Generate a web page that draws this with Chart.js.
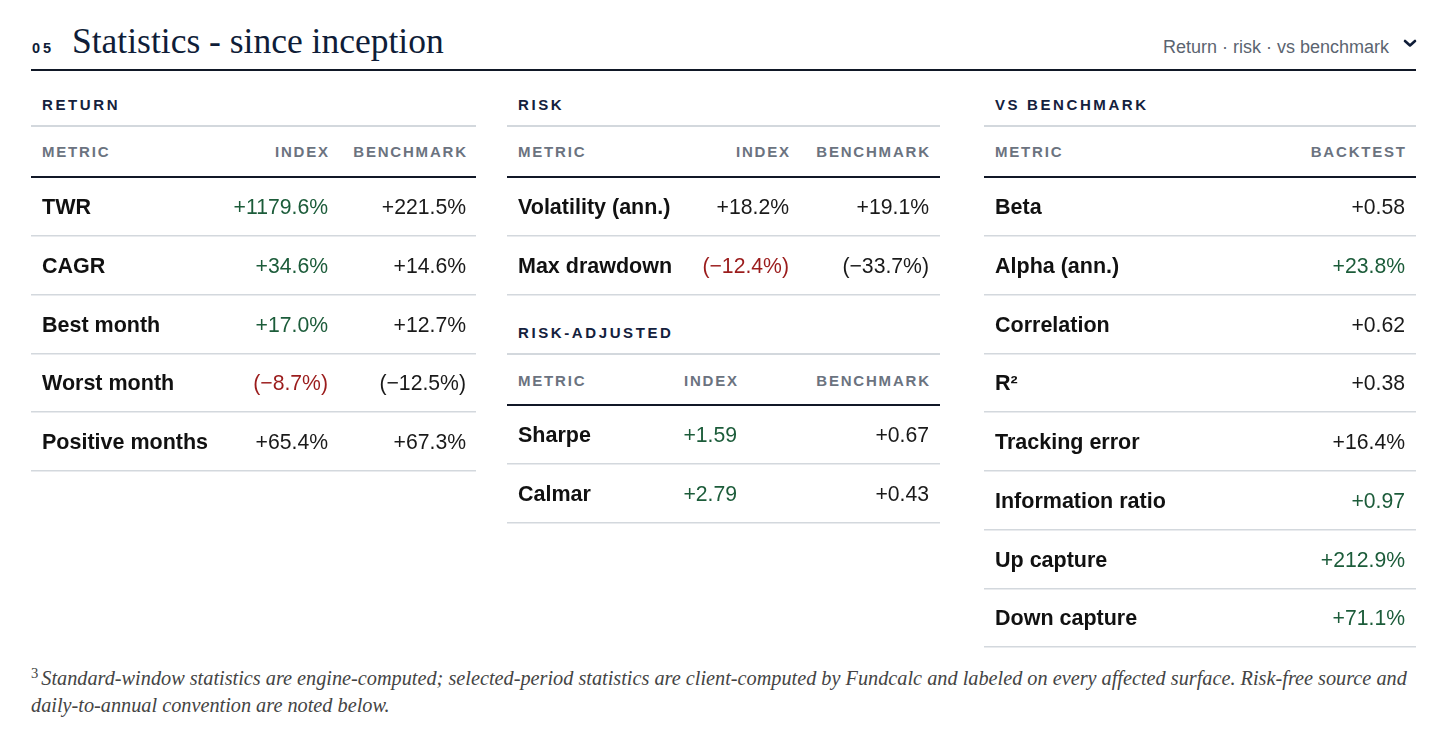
<!DOCTYPE html>
<html>
<head>
<meta charset="utf-8">
<script src="https://cdn.jsdelivr.net/npm/chart.js@4.4.1/dist/chart.umd.min.js"></script>
<style>
  body { margin: 0; background: #fff; width: 1456px; height: 749px; overflow: hidden; position: relative;
         font-family: "Liberation Sans", Arial, sans-serif; }
  .abs { position: absolute; white-space: nowrap; }
  .sec { font-weight: bold; font-size: 15px; line-height: 15px; letter-spacing: 2.6px; color: #14213d; }
  .hd { font-weight: bold; font-size: 15px; line-height: 15px; letter-spacing: 1.8px; color: #6b7380; }
  .light { height: 2px; background: #d3d8dd; }
  .dark { height: 2px; background: #111827; }
  #title { left: 72px; top: 23.5px; font-family: "Liberation Serif", Georgia, serif; font-size: 35.5px; line-height: 35.5px; color: #0f1d38; }
  #num { left: 32px; top: 40.5px; font-weight: bold; font-size: 14.5px; line-height: 14.5px; letter-spacing: 3px; color: #0f1d38; }
  #nav { right: 67px; top: 37.8px; font-size: 18px; line-height: 18px; color: #5b6470; }
  #fn { left: 31px; font-family: "Liberation Serif", Georgia, serif; font-style: italic; color: #444; line-height: 25px; white-space: nowrap; }
  #fn .sup { font-style: normal; position: relative; top: -0.45em; font-size: 0.72em; margin-right: 3px; }
  canvas { position: absolute; }
</style>
</head>
<body>
<div id="num" class="abs">05</div>
<div id="title" class="abs">Statistics - since inception</div>
<div id="nav" class="abs">Return · risk · vs benchmark</div>
<svg class="abs" style="left:1403px;top:39px" width="14" height="9"><polyline points="2,2 7,6.5 12,2" fill="none" stroke="#0f1d38" stroke-width="2.6" stroke-linecap="round" stroke-linejoin="round"/></svg>
<div class="abs dark" style="left:31px;top:69px;width:1385px"></div>
<div id="fn" class="abs"><span class="sup">3</span><span id="fn1">Standard-window statistics are engine-computed; selected-period statistics are client-computed by Fundcalc and labeled on every affected surface. Risk-free source and</span><br>daily-to-annual convention are noted below.</div>

<script>
// Return
var returnMetrics = ["TWR", "CAGR", "Best month", "Worst month", "Positive months"];
var returnIndex = [1179.6, 34.6, 17.0, -8.7, 65.4];
var returnBenchmark = [221.5, 14.6, 12.7, -12.5, 67.3];
var returnIndexTone = ["g", "g", "g", "r", ""];

// Risk
var riskMetrics = ["Volatility (ann.)", "Max drawdown"];
var riskIndex = [18.2, -12.4];
var riskBenchmark = [19.1, -33.7];
var riskIndexTone = ["", "r"];

// Risk-adjusted
var adjMetrics = ["Sharpe", "Calmar"];
var adjIndex = [1.59, 2.79];
var adjBenchmark = [0.67, 0.43];
var adjIndexTone = ["g", "g"];

// Vs benchmark
var vsMetrics = ["Beta", "Alpha (ann.)", "Correlation", "R\u00b2", "Tracking error", "Information ratio", "Up capture", "Down capture"];
var vsBacktest = [0.58, 23.8, 0.62, 0.38, 16.4, 0.97, 212.9, 71.1];
var vsUnit = ["x", "%", "x", "x", "%", "x", "%", "%"];
var vsTone = ["", "g", "", "", "", "g", "g", "g"];

var TONES = { g: "#1c5c3a", r: "#9b1c1c", "": "#1a1a1a" };

function pct(v) {
  return v < 0 ? "(\u2212" + Math.abs(v).toFixed(1) + "%)" : "+" + v.toFixed(1) + "%";
}
function ratio(v) {
  return (v < 0 ? "\u2212" : "+") + Math.abs(v).toFixed(2);
}
function vsFmt(v, i) {
  return vsUnit[i] === "%" ? pct(v) : ratio(v);
}

function text(s, cls, x, cy, align, ls) {
  var d = document.createElement("div");
  d.className = "abs " + cls;
  d.textContent = s;
  d.style.top = (cy - 0.4885 * 15) + "px";
  if (align === "right") d.style.right = (1456 - x - ls) + "px";
  else d.style.left = x + "px";
  document.body.appendChild(d);
}
function rule(cls, left, top, width) {
  var d = document.createElement("div");
  d.className = "abs " + cls;
  d.style.left = left + "px";
  d.style.top = top + "px";
  d.style.width = width + "px";
  document.body.appendChild(d);
}

// one table block: section label, column headers, rows drawn by Chart.js
function block(b) {
  text(b.section, "sec", b.left + 11, b.secY, "left", 2.6);
  rule("light", b.left, b.secY + 21, b.width);
  text("METRIC", "hd", b.left + 11, b.hdY, "left", 1.8);
  b.cols.forEach(function (c) { text(c.name, "hd", b.left + c.x, b.hdY, "right", 1.8); });
  rule("dark", b.left, b.top - 1, b.width);

  var h = b.metrics.length * b.rowH;
  var cv = document.createElement("canvas");
  cv.width = b.width;
  cv.height = h + 3;
  cv.style.left = b.left + "px";
  cv.style.top = b.top + "px";
  document.body.appendChild(cv);

  var cellPlugin = {
    id: "cells",
    afterDraw: function (chart) {
      var ctx = chart.ctx, xs = chart.scales.x, ys = chart.scales.y;
      ctx.save();
      b.metrics.forEach(function (m, i) {
        var base = ys.getPixelForValue(i) + 0.358 * 21.3;
        ctx.textBaseline = "alphabetic";
        ctx.font = 'bold 21.5px "Liberation Sans", Arial, sans-serif';
        ctx.fillStyle = "#111111";
        ctx.textAlign = "left";
        ctx.fillText(m, xs.getPixelForValue(11), base);
        ctx.font = '21.2px "Liberation Sans", Arial, sans-serif';
        ctx.textAlign = "right";
        b.cols.forEach(function (c) {
          ctx.fillStyle = TONES[c.tone ? c.tone[i] : ""];
          ctx.fillText(c.fmt(c.values[i], i), xs.getPixelForValue(c.x), base);
        });
      });
      ctx.restore();
    }
  };

  new Chart(cv, {
    type: "bar",
    data: { labels: b.metrics, datasets: [] },
    options: {
      indexAxis: "y",
      responsive: false,
      animation: false,
      events: [],
      layout: { padding: { top: 0, bottom: 3, left: 0, right: 0 } },
      plugins: { legend: { display: false }, tooltip: { enabled: false } },
      scales: {
        x: { type: "linear", min: 0, max: b.width, offset: false, display: false },
        y: {
          type: "category",
          offset: true,
          border: { display: false },
          ticks: { display: false },
          grid: {
            offset: true,
            drawTicks: false,
            lineWidth: 1.5,
            color: function (c) { return c.index === 0 ? "rgba(0,0,0,0)" : "#d3d8dd"; }
          }
        }
      }
    },
    plugins: [cellPlugin]
  });
}

block({
  section: "RETURN", left: 31, width: 445, secY: 104, hdY: 151, top: 177, rowH: 58.8,
  metrics: returnMetrics,
  cols: [
    { name: "INDEX", x: 297, values: returnIndex, fmt: pct, tone: returnIndexTone },
    { name: "BENCHMARK", x: 435, values: returnBenchmark, fmt: pct }
  ]
});
block({
  section: "RISK", left: 507, width: 433, secY: 104, hdY: 151, top: 177, rowH: 59,
  metrics: riskMetrics,
  cols: [
    { name: "INDEX", x: 282, values: riskIndex, fmt: pct, tone: riskIndexTone },
    { name: "BENCHMARK", x: 422, values: riskBenchmark, fmt: pct }
  ]
});
block({
  section: "RISK-ADJUSTED", left: 507, width: 433, secY: 332, hdY: 380, top: 405, rowH: 59,
  metrics: adjMetrics,
  cols: [
    { name: "INDEX", x: 230, values: adjIndex, fmt: ratio, tone: adjIndexTone },
    { name: "BENCHMARK", x: 422, values: adjBenchmark, fmt: ratio }
  ]
});
block({
  section: "VS BENCHMARK", left: 984, width: 432, secY: 104, hdY: 151, top: 177, rowH: 58.75,
  metrics: vsMetrics,
  cols: [
    { name: "BACKTEST", x: 421, values: vsBacktest, fmt: vsFmt, tone: vsTone }
  ]
});

// footnote: fit first line to the column width
(function () {
  var c = document.createElement("canvas").getContext("2d");
  c.font = 'italic 100px "Liberation Serif", Georgia, serif';
  var w = c.measureText(document.getElementById("fn1").textContent).width;
  var fs = 1367 * 100 / w;
  var fn = document.getElementById("fn");
  fn.style.fontSize = fs + "px";
  fn.style.top = (685 - (25 - 1.107 * fs) / 2 - 0.891 * fs) + "px";
})();
</script>
</body>
</html>
